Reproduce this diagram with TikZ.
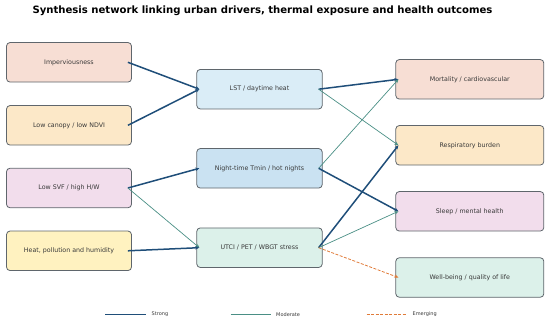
\documentclass[tikz,border=0pt]{standalone}
\usepackage{fontspec}
\setmainfont{DejaVu Sans}
\usepackage{xcolor}
\usetikzlibrary{arrows.meta}
\definecolor{ink}{HTML}{222222}
\definecolor{edge}{HTML}{5F666C}
\definecolor{strongc}{HTML}{1F4E79}
\definecolor{modc}{HTML}{4A8F85}
\definecolor{emergc}{HTML}{E07B39}
\definecolor{peach}{HTML}{F7DED4}
\definecolor{sand}{HTML}{FCE8C8}
\definecolor{orchid}{HTML}{F2DDEC}
\definecolor{lemon}{HTML}{FFF2C0}
\definecolor{sky}{HTML}{DAEDF7}
\definecolor{skydark}{HTML}{CAE2F2}
\definecolor{mint}{HTML}{DCF1EA}
\tikzset{
  every node/.style={font=\fontsize{6.3}{7}\selectfont,text=ink!90},
  box/.style={draw=edge,line width=0.8pt,rounded corners=3.5pt,align=center,minimum height=39.5pt,inner sep=2pt},
  driver/.style={box,minimum width=125pt},
  exposure/.style={box,minimum width=125.5pt},
  outcome/.style={box,minimum width=148pt},
  strong/.style={-{Stealth[length=4pt,width=3.5pt]},line width=1.5pt,draw=strongc},
  moderate/.style={-{Stealth[length=4pt,width=3.5pt]},line width=0.7pt,draw=modc},
  emerging/.style={-{Stealth[length=4pt,width=3.5pt]},line width=0.8pt,dash pattern=on 3pt off 1.5pt,draw=emergc},
  legend/.style={font=\fontsize{5}{6}\selectfont,anchor=west,inner sep=0pt}
}

\begin{document}
\begin{tikzpicture}[x=1pt,y=-1pt]
  \useasboundingbox (0,0) rectangle (550,324);
  \node[font=\fontsize{10.1}{12}\selectfont\bfseries,text=black] (title) at (262.5,10.5) {Synthesis network linking urban drivers, thermal exposure and health outcomes};

  % drivers
  \node[driver,fill=peach] (impervious) at (69,62.3) {Imperviousness};
  \node[driver,fill=sand] (canopy) at (69,125.3) {Low canopy / low NDVI};
  \node[driver,fill=orchid] (svf) at (69,188) {Low SVF / high H/W};
  \node[driver,fill=lemon] (heatpol) at (69,250.8) {Heat, pollution and humidity};

  % exposures
  \node[exposure,fill=sky] (lst) at (259.5,89.2) {LST / daytime heat};
  \node[exposure,fill=skydark] (tmin) at (259.5,168.3) {Night-time Tmin / hot nights};
  \node[exposure,fill=mint] (utci) at (259.5,247.7) {UTCI / PET / WBGT stress};

  % outcomes
  \node[outcome,fill=peach] (mort) at (469.8,79.3) {Mortality / cardiovascular};
  \node[outcome,fill=sand] (resp) at (469.8,145.3) {Respiratory burden};
  \node[outcome,fill=orchid] (sleep) at (469.8,211.3) {Sleep / mental health};
  \node[outcome,fill=mint] (wellbeing) at (469.8,277.5) {Well-being / quality of life};

  \draw[strong] ([xshift=-4pt]impervious.east)--([xshift=3pt]lst.west);
  \draw[strong] ([xshift=-4pt]canopy.east)--([xshift=3pt]lst.west);
  \draw[strong] ([xshift=-4pt]svf.east)--([xshift=3pt]tmin.west);
  \draw[moderate] ([xshift=-4pt]svf.east)--([xshift=3pt]utci.west);
  \draw[strong] ([xshift=-4pt]heatpol.east)--([xshift=3pt]utci.west);

  \draw[strong] ([xshift=-4pt]lst.east)--([xshift=3pt]mort.west);
  \draw[moderate] ([xshift=-4pt]lst.east)--([xshift=3pt]resp.west);
  \draw[moderate] ([xshift=-4pt]tmin.east)--([xshift=3pt]mort.west);
  \draw[strong] ([xshift=-4pt]tmin.east)--([xshift=3pt]sleep.west);
  \draw[strong] ([xshift=-4pt]utci.east)--([xshift=3pt]resp.west);
  \draw[moderate] ([xshift=-4pt]utci.east)--([xshift=3pt]sleep.west);
  \draw[emerging] ([xshift=-4pt]utci.east)--([xshift=3pt]wellbeing.west);

  % legend
  \coordinate (s1) at (105,314.5); \coordinate (s2) at (146,314.5);
  \coordinate (m1) at (230.5,314.5); \coordinate (m2) at (271,314.5);
  \coordinate (e1) at (366.5,314.5); \coordinate (e2) at (406.5,314.5);
  \draw[line width=1.5pt,draw=strongc] (s1)--(s2);
  \draw[line width=1pt,draw=modc] (m1)--(m2);
  \draw[line width=1pt,draw=emergc,dash pattern=on 3pt off 1.5pt] (e1)--(e2);
  \node[legend] (lgstrong) at (151.5,314.5) {Strong};
  \node[legend] (lgmod) at (276,314.5) {Moderate};
  \node[legend] (lgemerg) at (412.5,314.5) {Emerging};
\end{tikzpicture}
\end{document}
